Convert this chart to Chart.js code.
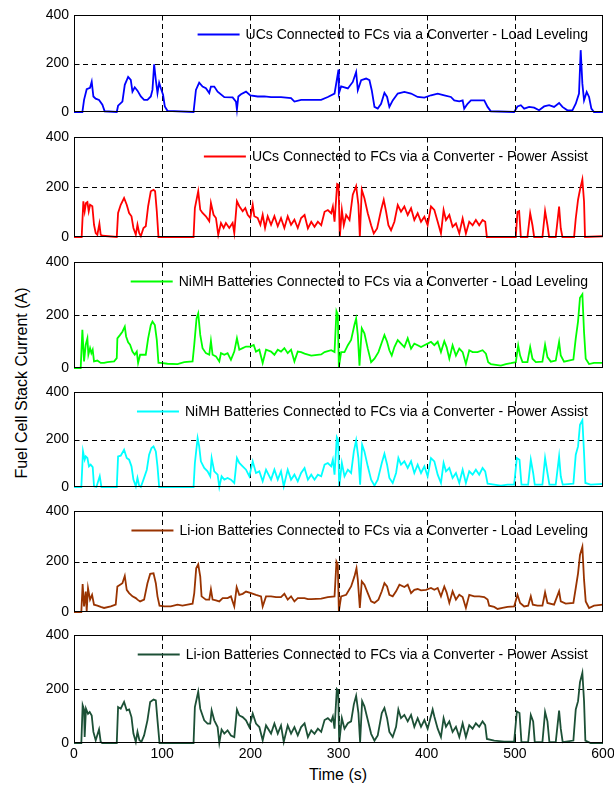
<!DOCTYPE html>
<html><head><meta charset="utf-8">
<script src="https://cdn.jsdelivr.net/npm/chart.js@4.4.1/dist/chart.umd.min.js"></script>
<style>
html,body{margin:0;padding:0;background:#fff;}
#wrap{position:relative;width:614px;height:787px;overflow:hidden;background:#fff;}
canvas{position:absolute;left:0;}
.ytitle{position:absolute;left:22px;top:383px;transform:translate(-50%,-50%) rotate(-90deg);font:16px "Liberation Sans",Arial,sans-serif;white-space:nowrap;color:#000;}
.xtitle{position:absolute;left:338px;top:775px;transform:translate(-50%,-50%);font:16px "Liberation Sans",Arial,sans-serif;white-space:nowrap;color:#000;}
</style></head>
<body><div id="wrap">
<div class="ytitle">Fuel Cell Stack Current (A)</div>
<div class="xtitle">Time (s)</div>
</div>
<script>
// ---- data: [time (s), fuel cell stack current (A)] ----
const timeTicks = [0,100,200,300,400,500,600];
const currentTicks = [0,200,400];
const seriesLabels = [
  "UCs Connected to FCs via a Converter - Load Leveling",
  "UCs Connected to FCs via a Converter - Power Assist",
  "NiMH Batteries Connected to FCs via a Converter - Load Leveling",
  "NiMH Batteries Connected to FCs via a Converter - Power Assist",
  "Li-ion Batteries Connected to FCs via a Converter - Load Leveling",
  "Li-ion Batteries Connected to FCs via a Converter - Power Assist"
];
const ucLoadLeveling = [[0,0],[9.5,0],[11.4,50],[14.4,94],[18.2,100],[20.1,125],[22,64],[24.6,55],[28.4,50],[32.2,30],[34.8,3],[48.5,0],[50,26],[54.9,43],[57.6,112],[61.4,145],[64.4,132],[66.3,84],[68.9,102],[72,88],[75.8,64],[79.5,50],[83.3,50],[87.1,64],[89,91],[90.9,197],[92.8,132],[94.7,78],[96.6,121],[98.5,98],[101,71],[103,23],[106,5],[135.6,0],[138.3,91],[142,121],[145.8,105],[149.6,98],[153.4,78],[155.3,105],[159.1,105],[162.9,84],[170.5,61],[179.9,60],[183.7,43],[184.8,10],[186.4,64],[189.4,73],[195.1,84],[200,68],[208.3,64],[215.9,64],[223.5,61],[234.8,61],[246.2,57],[250,43],[257.6,50],[268.9,50],[280.3,50],[287.9,62],[295.5,76],[300,175],[300.4,76],[303,106],[310.6,97],[316.2,124],[320,165],[321.9,90],[325.7,131],[331.3,138],[335.1,131],[337.7,90],[340.8,21],[344.5,14],[348.3,34],[352.1,79],[355.1,62],[357.7,21],[361.5,48],[367.2,76],[374.7,83],[382.3,76],[389.8,62],[397.4,59],[404.9,69],[412.5,76],[420,69],[427.5,62],[431.3,48],[437,44],[440.8,48],[442.6,14],[446.4,34],[450.2,48],[457.7,48],[465.3,48],[469.1,21],[472.8,3],[499.2,0],[503,23],[506.8,28],[510.6,14],[516.2,21],[521.9,18],[527.5,7],[533.2,23],[538.9,28],[544.5,21],[550.2,37],[554,21],[559.6,7],[565.3,7],[569.1,34],[572.8,76],[574.7,255],[576.6,117],[578.5,48],[581.5,83],[584.2,62],[586.8,14],[589.8,0],[600,0]];
const ucPowerAssist = [[0,0],[8.7,0],[10.6,143],[12.1,103],[13.6,136],[15.2,140],[16.7,103],[18.2,129],[20.8,123],[22.7,49],[24.6,16],[26.5,9],[28.8,53],[30.3,9],[32.2,5],[48.5,0],[50,96],[53,129],[56.8,156],[59.8,129],[62.5,96],[65.2,83],[67.4,36],[70.1,9],[72,49],[73.9,16],[75.8,3],[78.8,36],[81.4,43],[84.1,123],[87.1,183],[90.2,189],[92,183],[93.9,103],[95.8,0],[135.6,0],[137.1,116],[140.9,183],[143.2,109],[145.8,96],[149.6,83],[153.4,63],[155.3,136],[158.3,89],[161,76],[163.6,9],[166.7,56],[169.7,36],[172.3,56],[176.1,36],[179.9,56],[181.8,16],[184.8,143],[187.5,123],[191.3,103],[194.3,116],[197,89],[200,76],[202.7,129],[204.5,83],[208.3,76],[211.4,49],[214,89],[216.7,36],[219.7,83],[223.5,49],[227.3,83],[231.1,43],[234.8,76],[238.6,36],[242.4,83],[246.2,49],[250,69],[253.8,36],[257.6,76],[261.5,88],[265.3,34],[269.1,61],[272.8,41],[276.6,61],[280.4,47],[284.2,101],[287.9,108],[291.7,95],[293.6,122],[295.5,61],[298.5,212],[300,209],[301.5,0],[303.8,108],[306,47],[308.7,88],[312.5,68],[316.2,169],[320,203],[322.6,128],[324.2,0],[326.4,189],[329.4,155],[333.2,95],[337,47],[340,14],[343.8,34],[348.3,108],[351.3,149],[354,101],[356.6,47],[359.6,27],[363.4,61],[367.2,128],[370.9,101],[374.7,122],[378.5,88],[382.3,115],[386,68],[389.8,95],[393.6,61],[397.4,81],[401.1,47],[404.9,122],[408.7,108],[412.5,61],[416.2,14],[419.2,108],[421.9,68],[425.7,88],[429.4,41],[433.2,54],[437,14],[440.8,74],[444.5,14],[448.3,61],[452.1,47],[455.8,68],[459.6,47],[463.4,68],[466.4,61],[468.3,0],[501.1,0],[503,101],[504.9,104],[506.8,0],[514.3,0],[517.4,95],[520,47],[521.9,0],[531.3,0],[534.3,104],[537,47],[538.9,0],[546.4,0],[550.2,122],[552.1,34],[554,0],[567.2,0],[569.1,74],[571.7,149],[573.9,189],[576.6,230],[578.5,142],[579.6,0],[600,3]];
const nimhLoadLeveling = [[0,0],[7.6,0],[9.5,144],[11.4,25],[13.3,88],[15.2,112],[16.3,50],[18.2,75],[19.7,56],[21.2,69],[22.7,25],[26.5,28],[30.3,19],[34.1,19],[37.9,22],[45.5,25],[48.5,37],[49.2,112],[52.3,125],[54.9,137],[57.6,156],[59.1,119],[61.4,97],[63.6,88],[66.3,62],[68.9,50],[71.2,62],[72.7,19],[75,50],[77.7,50],[81.4,50],[84.1,112],[87.1,162],[89,175],[91.7,162],[93.9,106],[95.8,19],[98.5,19],[106,16],[117.4,15],[125,22],[134.5,25],[136.4,88],[139,187],[140.9,206],[143.2,125],[145.8,75],[149.6,56],[153.4,50],[155.3,102],[157.2,50],[161,44],[164.8,25],[166.7,56],[170.5,50],[174.2,56],[178,31],[181.8,62],[184.8,112],[187.5,69],[191.3,75],[195.1,81],[200,81],[203.8,87],[206.4,62],[210.2,69],[214,19],[217.8,69],[223.5,62],[227.3,50],[231.1,69],[234.8,62],[238.6,75],[242.4,56],[246.2,69],[250,25],[253.8,62],[257.6,60],[261.5,54],[269.1,47],[280.4,51],[284.2,60],[291.7,67],[295.5,60],[297.7,214],[299.2,201],[300.4,3],[303,60],[306.8,60],[310.6,86],[314.3,106],[318.1,163],[320,186],[321.9,124],[323.8,9],[326.4,150],[329.4,131],[333.2,73],[337,22],[340.8,35],[345.3,60],[349.1,96],[352.1,124],[355.1,99],[357.7,67],[360.4,47],[363.4,79],[367.2,105],[370.9,92],[374.7,79],[378.5,112],[382.3,73],[386,92],[389.8,86],[393.6,79],[397.4,86],[401.1,92],[404.9,99],[408.7,86],[412.5,99],[416.2,60],[420,101],[422.6,79],[425.7,35],[429.4,86],[433.2,47],[437,73],[440.8,60],[444.5,15],[448.3,67],[452.1,60],[457.7,60],[463.4,67],[467.2,54],[469.8,22],[472.8,15],[478.5,12],[484.2,9],[489.8,15],[495.5,18],[501.1,22],[503.8,86],[506,47],[508.7,22],[514.3,22],[517.4,79],[520,35],[523.8,22],[531.3,24],[534.3,88],[537,41],[540.8,24],[546.4,28],[550.2,99],[552.1,47],[555.8,24],[566.4,32],[569.1,112],[571.7,176],[573.9,265],[576.6,278],[578.5,136],[580.4,35],[584.2,15],[589.8,19],[600,19]];
const nimhPowerAssist = [[0,0],[8.3,0],[10.2,150],[12.1,115],[13.3,129],[15.2,122],[17,87],[18.9,94],[21.2,84],[22.7,3],[25.4,0],[29.2,45],[31.1,0],[48.5,0],[50,129],[53,132],[56.8,157],[59.8,122],[62.5,115],[65.2,87],[67.4,31],[70.1,3],[72,38],[73.9,6],[75.8,0],[78.8,31],[82.6,73],[85.2,136],[87.9,164],[90.2,171],[92.8,150],[94.7,87],[96.6,0],[135.6,0],[137.1,101],[140.2,206],[142,171],[143.9,108],[147.7,80],[151.5,66],[154.5,45],[156.1,122],[159.1,66],[162.9,52],[164.8,0],[167.4,45],[170.5,31],[174.2,38],[178,31],[181.8,17],[184.8,122],[187.5,101],[191.3,87],[195.1,73],[198.9,45],[202.7,108],[206.4,59],[210.2,66],[214,24],[217.8,73],[223.5,31],[227.3,73],[231.1,31],[234.8,66],[237.9,3],[242.4,73],[246.2,31],[250,52],[253.8,24],[257.6,59],[261.5,80],[265.3,31],[269.1,52],[272.8,31],[276.6,52],[280.4,45],[284.2,94],[287.9,101],[291.7,87],[293.6,115],[295.5,52],[298.1,210],[299.6,199],[300.8,0],[303.8,101],[306.8,45],[310.6,73],[314.3,59],[317.4,150],[320,196],[322.6,122],[324.5,10],[326.8,178],[329.4,150],[333.2,87],[337,31],[340.8,6],[344.5,31],[349.1,101],[352.1,140],[355.1,94],[357.7,38],[361.5,17],[365.3,59],[367.9,122],[370.9,94],[374.7,108],[378.5,80],[382.3,108],[386,59],[389.8,94],[393.6,59],[397.4,87],[401.1,45],[404.9,122],[408.7,108],[412.5,52],[416.2,17],[419.2,101],[421.9,66],[425.7,80],[429.4,38],[433.2,59],[437,17],[440.8,73],[444.5,17],[448.3,66],[452.1,52],[455.8,73],[459.6,52],[463.4,80],[466.4,66],[469.1,14],[476.6,10],[484.2,6],[491.7,10],[499.2,10],[502.3,122],[505.3,115],[507.5,10],[515.1,10],[518.1,115],[520.8,59],[522.6,10],[531.3,10],[534.3,122],[537,59],[539.2,10],[546.4,10],[550.2,129],[552.1,45],[554.3,10],[566.4,14],[569.1,136],[571.7,171],[573.9,262],[576.6,281],[578.5,143],[580,17],[586,10],[600,13]];
const liionLoadLeveling = [[0,0],[8.3,0],[9.8,111],[11.4,22],[13.3,81],[14.4,3],[15.9,94],[18.2,49],[20.5,68],[22.7,29],[26.5,25],[30.3,20],[34.1,16],[41.7,22],[47.3,29],[49.2,101],[52.3,108],[54.9,114],[57.6,143],[59.8,88],[62.5,75],[66.3,62],[70.1,55],[72,49],[75,42],[79.5,49],[83.3,114],[86.4,151],[90.2,153],[92.8,114],[94.7,62],[97,25],[102.3,22],[109.8,22],[117.4,29],[123,25],[128.8,29],[134.5,33],[136.4,75],[138.6,173],[140.9,189],[143.2,140],[144.7,62],[149.6,49],[153.4,49],[155.3,90],[157.2,49],[161,46],[164.8,42],[168.6,55],[174.2,55],[178,62],[181.8,22],[184.5,98],[187.5,68],[191.3,72],[195.1,81],[200.8,75],[206.4,68],[212.1,62],[214,22],[217.8,62],[223.5,62],[229.2,59],[234.8,59],[238.6,72],[242.4,49],[246.2,62],[250,42],[253.8,55],[261.4,55],[265.3,51],[269.1,51],[280.4,53],[287.9,59],[295.5,62],[297.7,199],[299.2,187],[300.4,3],[303,62],[308.7,68],[314.3,101],[318.1,141],[320.4,173],[321.9,128],[324.2,16],[326.4,121],[329.4,108],[333.2,75],[337,42],[340.8,36],[345.3,49],[349.1,82],[352.1,114],[355.1,101],[357.7,68],[361.5,62],[365.3,82],[369.1,108],[374.7,99],[378.5,108],[382.3,75],[386,88],[389.8,91],[393.6,86],[399.2,88],[404.9,95],[408.7,88],[412.5,95],[416.2,62],[420,101],[422.6,78],[425.7,36],[429.4,82],[433.2,49],[437,68],[440.8,59],[444.5,16],[448.3,68],[454,62],[459.6,62],[465.3,59],[469.1,49],[470.9,25],[476.6,20],[480.4,12],[486,16],[491.7,20],[499.2,22],[503,68],[506,36],[510.6,22],[515.1,25],[518.1,62],[520.4,29],[525.7,25],[531.3,25],[534.3,78],[537,36],[544.5,29],[550.2,82],[552.1,42],[557.7,33],[566.4,36],[569.1,95],[571.7,153],[573.9,226],[576.6,258],[578.5,128],[580.4,42],[584.2,16],[589.8,25],[600,29]];
const liionPowerAssist = [[0,0],[8.3,0],[9.8,140],[11.4,124],[12.1,22],[13.6,127],[15.9,108],[17.8,115],[20.1,102],[22,41],[24.6,10],[28.4,50],[30.3,4],[32,0],[48.5,0],[50,133],[53,127],[56.8,152],[59.8,121],[62.5,124],[65.2,96],[67.4,35],[70.1,4],[72,41],[74.2,10],[76.5,4],[79.5,28],[83.3,84],[86.4,152],[90.2,161],[92.8,158],[94.7,84],[97,0],[135.6,0],[137.1,133],[140.9,190],[143.2,127],[147.7,84],[151.5,72],[154.5,72],[156.1,121],[159.1,84],[162.9,59],[164.8,0],[167.4,50],[170.5,35],[174.2,47],[178,28],[181.8,22],[184.8,124],[187.5,102],[191.3,96],[195.1,84],[198.9,59],[202.7,109],[206.4,72],[210.2,59],[214,10],[217.8,65],[223.5,35],[227.3,72],[231.1,35],[234.8,65],[237.9,4],[242.4,65],[246.2,35],[250,59],[253.8,28],[257.6,59],[261.5,73],[265.3,22],[269.1,47],[272.8,34],[276.6,53],[280.4,41],[284.2,85],[287.9,92],[291.7,80],[293.6,98],[295.5,53],[298.1,200],[299.6,194],[300.8,0],[303.8,92],[306.8,53],[310.6,73],[314.3,80],[317.4,143],[320,175],[322.6,111],[324.5,3],[326.8,155],[329.4,136],[333.2,85],[337,34],[340.8,9],[344.5,28],[349.1,111],[352.1,130],[355.1,92],[357.7,41],[361.5,22],[365.3,60],[367.9,124],[370.9,92],[374.7,104],[378.5,80],[382.3,104],[386,60],[389.8,92],[393.6,60],[397.4,85],[401.1,53],[406.8,124],[408.7,98],[412.5,53],[416.2,22],[419.2,92],[421.9,60],[425.7,80],[429.4,41],[433.2,60],[437,22],[440.8,73],[444.5,22],[448.3,66],[452.1,53],[455.8,73],[459.6,60],[463.4,80],[466.4,66],[468.3,15],[476.6,9],[487.9,5],[499.2,5],[502.3,117],[505.3,111],[507.5,3],[515.1,3],[518.1,104],[520.8,80],[522.6,3],[531.3,3],[534.3,115],[537,80],[539.2,3],[546.4,3],[550.2,120],[552.1,53],[554.3,3],[566.4,9],[569.1,124],[571.7,155],[573.9,225],[576.6,260],[578.5,155],[580,9],[586,0],[600,0]];

// ---- layout & style ----
const allSeries = [ucLoadLeveling, ucPowerAssist, nimhLoadLeveling, nimhPowerAssist, liionLoadLeveling, liionPowerAssist];
const seriesColors = ['#0000ff','#ff0000','#00ff00','#00ffff','#993300','#1c5036'];
const panelTops = [15,137,262,392,511,635];
const panelBottoms = [112,237,368,487,612,743];
const FONT = '"Liberation Sans", Arial, sans-serif';
const LINE_W = 1.8;

const framePlugin = {
  id: 'frame',
  beforeDatasetsDraw(chart) {
    const {ctx, chartArea: a, scales: {x, y}} = chart;
    ctx.save();
    ctx.strokeStyle = '#000'; ctx.lineWidth = 1; ctx.setLineDash([5, 4]);
    ctx.beginPath();
    timeTicks.forEach(v => {
      if (v > x.min && v < x.max) { const px = Math.round(x.getPixelForValue(v)) + 0.5; ctx.moveTo(px, a.top); ctx.lineTo(px, a.bottom); }
    });
    currentTicks.forEach(v => {
      if (v > y.min && v < y.max) { const py = Math.round(y.getPixelForValue(v)) + 0.5; ctx.moveTo(a.left, py); ctx.lineTo(a.right, py); }
    });
    ctx.stroke();
    ctx.restore();
  },
  afterDatasetsDraw(chart) {
    const {ctx, chartArea: a, scales: {x, y}} = chart;
    ctx.save();
    ctx.setLineDash([]);
    ctx.strokeStyle = '#000'; ctx.lineWidth = 1;
    const L = Math.round(a.left) + 0.5, T = Math.round(a.top) + 0.5, R = Math.round(a.right) - 0.5, B = Math.round(a.bottom) - 0.5;
    ctx.strokeRect(L, T, R - L, B - T);
    ctx.beginPath();
    const tl = 5;
    timeTicks.forEach(v => {
      if (v > x.min && v < x.max) { const px = Math.round(x.getPixelForValue(v)) + 0.5; ctx.moveTo(px, B); ctx.lineTo(px, B - tl); ctx.moveTo(px, T); ctx.lineTo(px, T + tl); }
    });
    currentTicks.forEach(v => {
      if (v > y.min && v < y.max) { const py = Math.round(y.getPixelForValue(v)) + 0.5; ctx.moveTo(L, py); ctx.lineTo(L + tl, py); ctx.moveTo(R, py); ctx.lineTo(R - tl, py); }
    });
    ctx.stroke();
    // legend (transparent, top-right, inside axes)
    const ds = chart.data.datasets[0];
    ctx.font = '14px ' + FONT;
    ctx.fillStyle = '#000';
    ctx.textAlign = 'right'; ctx.textBaseline = 'middle';
    const ty = a.top + 19.5;
    const tx = a.right - 15;
    ctx.fillText(ds.label, tx, ty + 0.5);
    const w = ctx.measureText(ds.label).width;
    ctx.strokeStyle = ds.borderColor; ctx.lineWidth = LINE_W;
    ctx.beginPath();
    ctx.moveTo(tx - w - 48, ty); ctx.lineTo(tx - w - 6, ty);
    ctx.stroke();
    ctx.restore();
  }
};

const wrap = document.getElementById('wrap');
allSeries.forEach((series, i) => {
  const isLast = i === allSeries.length - 1;
  const plotH = panelBottoms[i] - panelTops[i];
  const cTop = panelTops[i] - 10;
  const cH = isLast ? (787 - cTop) : plotH + 20;
  const xH = isLast ? 22 : 0;
  const padBottom = isLast ? (cH - 10 - plotH - xH) : 10;
  const cv = document.createElement('canvas');
  cv.width = 614; cv.height = cH;
  cv.style.width = '614px'; cv.style.height = cH + 'px'; cv.style.top = cTop + 'px';
  wrap.appendChild(cv);
  new Chart(cv, {
    type: 'line',
    data: {
      datasets: [{
        label: seriesLabels[i],
        data: series.map(p => ({x: p[0], y: p[1]})),
        borderColor: seriesColors[i],
        borderWidth: LINE_W,
        pointRadius: 0,
        tension: 0,
        fill: false,
        clip: false
      }]
    },
    options: {
      responsive: false,
      animation: false,
      devicePixelRatio: 1,
      layout: {padding: {top: 10, bottom: padBottom, left: 0, right: 11}},
      plugins: {legend: {display: false}, tooltip: {enabled: false}},
      scales: {
        x: {
          type: 'linear', min: 0, max: 600,
          display: isLast,
          afterBuildTicks: s => { s.ticks = timeTicks.map(v => ({value: v})); },
          ticks: {font: {family: FONT, size: 14}, color: '#000', padding: 3, maxRotation: 0, autoSkip: false},
          grid: {display: false, drawTicks: false},
          border: {display: false},
          afterFit: s => { s.height = xH; s.paddingLeft = 0; s.paddingRight = 0; }
        },
        y: {
          type: 'linear', min: 0, max: 400,
          afterBuildTicks: s => { s.ticks = currentTicks.map(v => ({value: v})); },
          ticks: {font: {family: FONT, size: 14}, color: '#000', padding: 5},
          grid: {display: false, drawTicks: false},
          border: {display: false},
          afterFit: s => { s.width = 74; s.paddingTop = 0; s.paddingBottom = 0; }
        }
      }
    },
    plugins: [framePlugin]
  });
});
</script>
</body></html>
